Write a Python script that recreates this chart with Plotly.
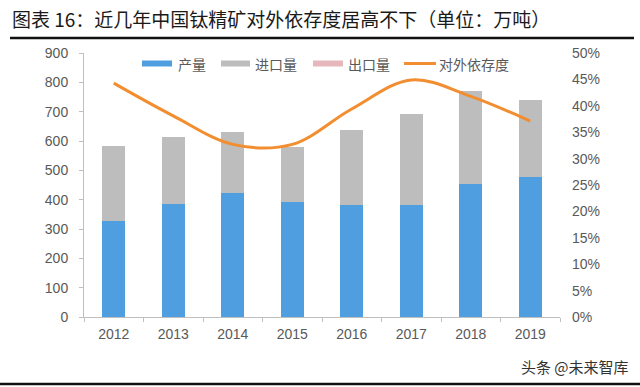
import plotly.graph_objects as go

years = ["2012", "2013", "2014", "2015", "2016", "2017", "2018", "2019"]
production = [327, 385, 424, 391, 381, 383, 454, 477]
imports = [257, 230, 206, 190, 257, 309, 317, 263]
exports = [0, 0, 0, 0, 0, 0, 0, 0]
dependency = [44.3, 38.1, 32.7, 32.7, 39.4, 44.9, 41.8, 37.1]

left_ticks = [0, 100, 200, 300, 400, 500, 600, 700, 800, 900]
right_ticks = [0, 5, 10, 15, 20, 25, 30, 35, 40, 45, 50]
right_labels = ["0%", "5%", "10%", "15%", "20%", "25%", "30%", "35%", "40%", "45%", "50%"]

series_names = ["产量", "进口量", "出口量", "对外依存度"]
series_colors = ["#4f9ee0", "#bdbdbd", "#e6b8bd", "#f28e2f"]

W, H = 640, 387
L, R, T, B = 84, 560, 53, 317

def px(x):
    return (x - L) / (R - L)

def py(y):
    return (B - y) / (B - T)

font_fam = "Liberation Sans, Arial, Noto Sans CJK SC, sans-serif"
cjk = "Noto Sans CJK SC, Liberation Sans, sans-serif"
tick_col = "#595959"

fig = go.Figure()
fig.add_trace(go.Bar(x=years, y=production, name=series_names[0],
                     marker_color=series_colors[0], marker_line_width=0))
fig.add_trace(go.Bar(x=years, y=imports, name=series_names[1],
                     marker_color=series_colors[1], marker_line_width=0))
fig.add_trace(go.Bar(x=years, y=exports, name=series_names[2],
                     marker_color=series_colors[2], marker_line_width=0))
fig.add_trace(go.Scatter(x=years, y=dependency, name=series_names[3], yaxis="y2",
                         mode="lines", line=dict(color=series_colors[3], width=3,
                                                 shape="spline", smoothing=1.0)))

fig.update_layout(
    width=W, height=H,
    margin=dict(l=L, r=W - R, t=T, b=H - B),
    paper_bgcolor="white", plot_bgcolor="white",
    barmode="stack", bargap=0.61,
    font=dict(family=font_fam, size=14, color=tick_col),
    xaxis=dict(type="category", showline=True, linecolor="#bfbfbf", linewidth=1,
               ticks="outside", tickson="boundaries", ticklen=4, tickcolor="#bfbfbf",
               showgrid=False, ticklabelstandoff=4, tickfont=dict(size=14, color=tick_col)),
    yaxis=dict(range=[0, 900], tickvals=left_ticks, showline=True, linecolor="#bfbfbf",
               linewidth=1, ticks="outside", ticklen=4, tickcolor="#bfbfbf",
               showgrid=False, zeroline=False, ticklabelstandoff=8,
               tickfont=dict(size=14, color=tick_col)),
    yaxis2=dict(range=[0, 50], tickvals=right_ticks, ticktext=right_labels, overlaying="y",
                side="right", showline=False, showgrid=False, zeroline=False,
                ticklabelstandoff=11, tickfont=dict(size=14, color=tick_col)),
    showlegend=False,
)

# custom legend (wide swatches as in the reference)
leg_y = 63.5
swatches = [(142, 172), (221, 250), (313, 343), (404, 436)]
text_x = [176, 253, 346, 437]
for i, (x0, x1) in enumerate(swatches):
    if i < 3:
        fig.add_shape(type="rect", xref="paper", yref="paper", x0=px(x0), x1=px(x1),
                      y0=py(leg_y + 3), y1=py(leg_y - 3), line=dict(width=0),
                      fillcolor=series_colors[i])
    else:
        fig.add_shape(type="line", xref="paper", yref="paper", x0=px(x0), x1=px(x1),
                      y0=py(leg_y), y1=py(leg_y), line=dict(color=series_colors[i], width=3))
    fig.add_annotation(text=series_names[i], xref="paper", yref="paper", x=px(text_x[i]),
                       y=py(leg_y), xanchor="left", yanchor="middle", showarrow=False,
                       font=dict(family=cjk, size=14, color=tick_col))

fig.add_annotation(text="图表 16：近几年中国钛精矿对外依存度居高不下（单位：万吨）",
                   xref="paper", yref="paper", x=px(10), y=py(19), xanchor="left",
                   yanchor="middle", showarrow=False,
                   font=dict(family=cjk, size=19, color="#1a1a1a"))
fig.add_annotation(text="头条 @未来智库", xref="paper", yref="paper", x=px(631), y=py(366),
                   xanchor="right", yanchor="middle", showarrow=False,
                   font=dict(family=cjk, size=15, color="#333333"))
fig.add_shape(type="line", xref="paper", yref="paper", x0=px(10), x1=px(634),
              y0=py(38), y1=py(38), line=dict(color="#111111", width=2.5))
fig.add_shape(type="line", xref="paper", yref="paper", x0=px(0), x1=px(640),
              y0=py(384), y1=py(384), line=dict(color="#111111", width=2.5))

fig.write_html("out.html", post_script="document.body.style.margin='0';",
               config={"displayModeBar": False})
